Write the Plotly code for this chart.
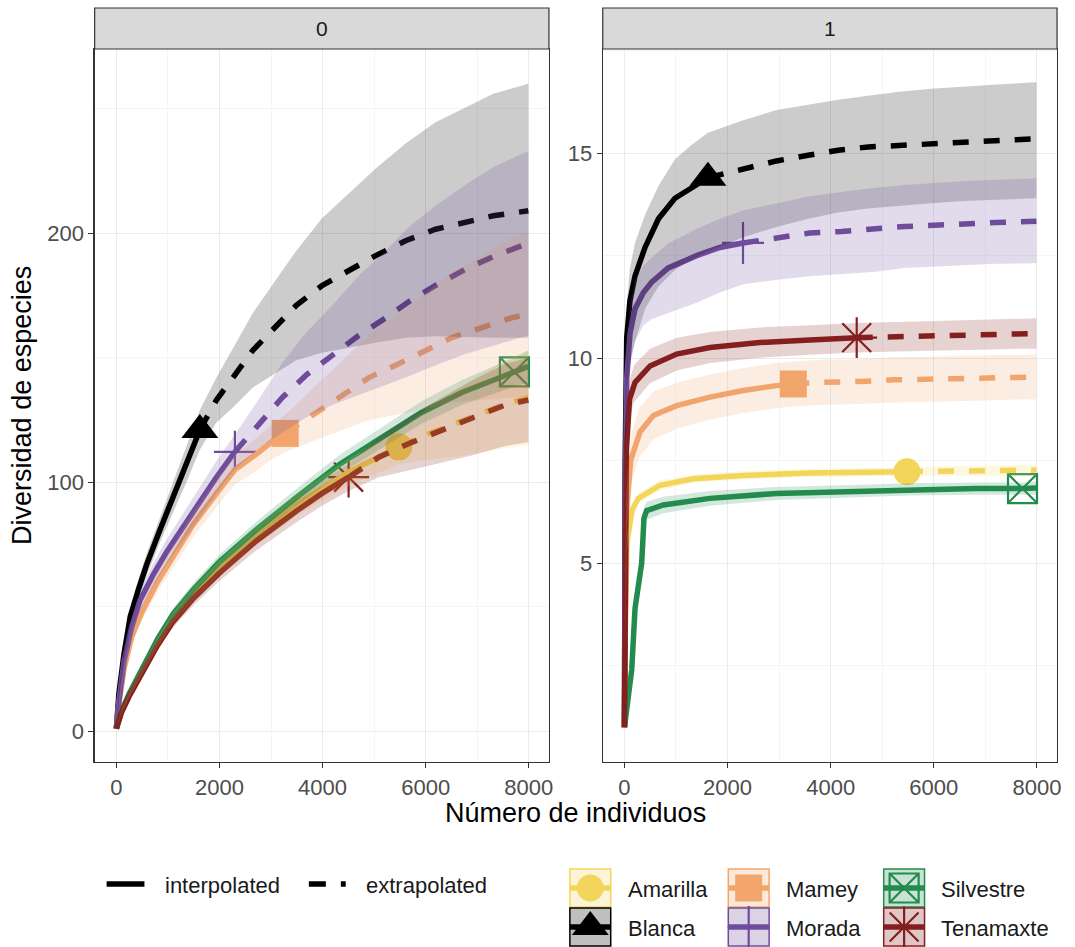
import plotly.graph_objects as go

W, H = 1075, 947
FONT = "Liberation Sans, Arial, sans-serif"

# ---------------- categories / styles ----------------
assemblages = ["Amarilla", "Blanca", "Mamey", "Morada", "Silvestre", "Tenamaxte"]
colors = ["#F3D55B", "#000000", "#F2A66C", "#704C9C", "#238B4E", "#851F1F"]
symbols = ["circle", "triangle-up", "square", "cross-thin-open", "square-x-open", "asterisk-open"]
marker_sizes = [27, 32, 27, 30, 29, 34]
sample_size = [5480, 1620, 3275, 2300, 7720, 4505]   # reference sample size (observed point)
facets = ["0", "1"]
x_ticks = [0, 2000, 4000, 6000, 8000]
y_ticks_q0 = [0, 100, 200]
y_ticks_q1 = [5, 10, 15]

# ---------------- panel q = 0 ----------------
q0_amarilla_x = [1, 100, 250, 520, 800, 1100, 1500, 2000, 2720, 3500, 4500, 5480, 6000, 6500, 7000, 7500, 7990]
q0_amarilla_y = [1, 7.8, 14.5, 25, 35.5, 45.5, 55, 65.5, 78.5, 91, 104, 114.2, 119, 123, 127, 131, 134]
q0_amarilla_hw = [0, 0.8, 1.2, 1.6, 2, 2.4, 2.8, 3.2, 3.8, 4.5, 5.5, 7, 10, 13, 15.5, 17.5, 19]

q0_blanca_x = [1, 50, 150, 270, 430, 590, 850, 1100, 1360, 1620, 1942, 2262, 2648, 3490, 3990, 5030, 5610, 6190, 6770, 7310, 7990]
q0_blanca_y = [1, 15, 31, 46, 57, 67, 81, 94, 107, 121, 133, 142, 153, 171, 179, 191, 197, 201.6, 204.4, 207, 209]
q0_blanca_hw = [0, 2, 3, 3.5, 4, 4.5, 5, 6, 7, 8, 9, 12, 15, 22, 27, 35, 39, 43, 46, 49, 51]

q0_mamey_x = [1, 50, 150, 300, 500, 800, 1100, 1490, 2000, 2300, 2700, 3005, 3275, 3875, 4380, 4900, 5420, 5920, 6500, 7080, 7660, 7990]
q0_mamey_y = [1, 11, 25, 38, 48, 60, 70, 83, 97, 105, 111, 116, 119.6, 128, 135, 142, 147, 152, 158, 162, 166, 167.5]
q0_mamey_hw = [0, 1.5, 2.5, 3, 3.5, 4, 4.5, 5, 5.5, 6, 6.5, 7, 7.5, 11, 14, 17, 20, 23, 26, 29, 32, 33]

q0_morada_x = [1, 50, 150, 300, 460, 720, 977, 1298, 1620, 1942, 2300, 2777, 3220, 3680, 4185, 4705, 5225, 5670, 6190, 6770, 7350, 7990]
q0_morada_y = [1, 12, 28, 42, 52.6, 63, 72, 82, 92, 102, 112.2, 123.7, 134, 143, 151, 159, 166, 172.5, 179, 185.5, 191, 196]
q0_morada_hw = [0, 2, 3, 3.5, 4, 4.5, 5, 5.5, 6, 6.5, 7, 10, 14, 17, 20, 24, 27, 30, 32, 34, 36, 37]

q0_silvestre_x = [1, 100, 250, 520, 800, 1100, 1500, 2000, 2720, 3500, 4320, 5000, 5920, 6700, 7720, 7990]
q0_silvestre_y = [1, 8, 15, 26, 37, 47, 57, 68, 81, 94, 107, 116, 128, 136, 144.3, 146.5]
q0_silvestre_hw = [0, 0.8, 1.2, 1.6, 2, 2.3, 2.6, 2.9, 3.2, 3.5, 3.8, 4.1, 4.5, 5, 5.8, 6.5]

q0_tenamaxte_x = [1, 100, 250, 520, 800, 1100, 1500, 2000, 2720, 3500, 3990, 4505, 5090, 5730, 6310, 6890, 7540, 7990]
q0_tenamaxte_y = [1, 7.5, 14, 24.5, 34.5, 44, 53.5, 63.5, 76.5, 88.5, 95.5, 102, 110, 116, 121, 125.7, 131, 133]
q0_tenamaxte_hw = [0, 0.8, 1.2, 1.6, 2, 2.4, 2.8, 3.2, 3.8, 4.5, 5, 5.5, 8, 11, 13, 15, 16.5, 17]

# ---------------- panel q = 1 ----------------
q1_amarilla_x = [1, 5, 15, 50, 150, 270, 368, 690, 1336, 2304, 3594, 5480, 6500, 7990]
q1_amarilla_y = [1, 2.2, 3.5, 5.5, 6.3, 6.58, 6.66, 6.9, 7.06, 7.14, 7.2, 7.23, 7.25, 7.27]
q1_amarilla_hw = [0, 0.1, 0.15, 0.2, 0.15, 0.12, 0.12, 0.12, 0.1, 0.1, 0.1, 0.1, 0.12, 0.13]

q1_blanca_x = [1, 5, 15, 45, 108, 205, 400, 660, 980, 1300, 1620, 2304, 2949, 3562, 4143, 4724, 5336, 5950, 6563, 7145, 7725, 7990]
q1_blanca_y = [1, 4, 7.5, 10.5, 11.4, 12.0, 12.7, 13.4, 13.9, 14.15, 14.4, 14.61, 14.81, 14.95, 15.07, 15.15, 15.19, 15.24, 15.28, 15.32, 15.33, 15.35]
q1_blanca_lo = [1, 3.5, 6.5, 9.3, 9.9, 10.4, 11.2, 11.75, 12.15, 12.4, 12.6, 12.95, 13.2, 13.4, 13.55, 13.65, 13.72, 13.78, 13.83, 13.86, 13.89, 13.9]
q1_blanca_hi = [1, 4.5, 8.5, 11.3, 12.2, 12.8, 13.5, 14.2, 14.85, 15.2, 15.5, 15.8, 16.05, 16.18, 16.3, 16.4, 16.5, 16.57, 16.63, 16.67, 16.71, 16.73]

q1_mamey_x = [1, 5, 15, 40, 120, 238, 302, 561, 1013, 1658, 2304, 2949, 3275, 3800, 4562, 5207, 6433, 7659, 7990]
q1_mamey_y = [1, 2.5, 4.5, 6.2, 7.5, 8.0, 8.2, 8.6, 8.84, 9.05, 9.21, 9.33, 9.37, 9.41, 9.43, 9.47, 9.5, 9.54, 9.54]
q1_mamey_hw = [0, 0.3, 0.45, 0.55, 0.6, 0.6, 0.6, 0.58, 0.56, 0.55, 0.55, 0.55, 0.55, 0.55, 0.55, 0.55, 0.55, 0.55, 0.55]

q1_morada_x = [1, 5, 15, 45, 108, 205, 368, 529, 850, 1400, 1850, 2300, 3013, 3594, 4207, 4821, 5433, 6014, 6595, 7208, 7822, 7990]
q1_morada_y = [1, 3.5, 6.5, 9.5, 10.6, 11.2, 11.6, 11.85, 12.2, 12.5, 12.7, 12.81, 12.93, 13.05, 13.09, 13.16, 13.21, 13.24, 13.29, 13.31, 13.33, 13.34]
q1_morada_lo = [1, 3, 5.5, 8.7, 9.8, 10.4, 10.8, 10.95, 11.1, 11.35, 11.6, 11.8, 11.92, 12.0, 12.05, 12.1, 12.2, 12.24, 12.27, 12.3, 12.31, 12.32]
q1_morada_hi = [1, 4, 7.5, 10.3, 11.3, 11.9, 12.25, 12.45, 12.8, 13.15, 13.4, 13.6, 13.8, 13.95, 14.05, 14.15, 14.22, 14.27, 14.32, 14.35, 14.38, 14.39]

q1_silvestre_x = [1, 60, 142, 206, 260, 335, 380, 430, 755, 1658, 2949, 4240, 5530, 6820, 7720, 7990]
q1_silvestre_y = [1, 1.5, 2.4, 3.9, 4.3, 5.0, 6.1, 6.28, 6.42, 6.58, 6.7, 6.75, 6.8, 6.82, 6.82, 6.83]
q1_silvestre_hw = [0, 0.1, 0.15, 0.2, 0.22, 0.25, 0.25, 0.22, 0.2, 0.18, 0.16, 0.15, 0.15, 0.15, 0.15, 0.16]

q1_tenamaxte_x = [1, 5, 15, 40, 100, 174, 206, 497, 1013, 1658, 2626, 3594, 4505, 5272, 5918, 6498, 7112, 7693, 7990]
q1_tenamaxte_y = [1, 3, 5.5, 7.8, 9.0, 9.33, 9.41, 9.81, 10.1, 10.26, 10.38, 10.44, 10.5, 10.52, 10.54, 10.56, 10.58, 10.6, 10.6]
q1_tenamaxte_hw = [0, 0.3, 0.4, 0.45, 0.45, 0.45, 0.45, 0.42, 0.4, 0.38, 0.37, 0.36, 0.36, 0.36, 0.36, 0.36, 0.37, 0.37, 0.37]


def band(y, hw=None, lo=None, hi=None):
    if lo is None:
        lo = [a - b for a, b in zip(y, hw)]
        hi = [a + b for a, b in zip(y, hw)]
    return lo, hi


panel0 = {
    "Amarilla": (q0_amarilla_x, q0_amarilla_y, *band(q0_amarilla_y, q0_amarilla_hw)),
    "Blanca": (q0_blanca_x, q0_blanca_y, *band(q0_blanca_y, q0_blanca_hw)),
    "Mamey": (q0_mamey_x, q0_mamey_y, *band(q0_mamey_y, q0_mamey_hw)),
    "Morada": (q0_morada_x, q0_morada_y, *band(q0_morada_y, q0_morada_hw)),
    "Silvestre": (q0_silvestre_x, q0_silvestre_y, *band(q0_silvestre_y, q0_silvestre_hw)),
    "Tenamaxte": (q0_tenamaxte_x, q0_tenamaxte_y, *band(q0_tenamaxte_y, q0_tenamaxte_hw)),
}
panel1 = {
    "Amarilla": (q1_amarilla_x, q1_amarilla_y, *band(q1_amarilla_y, q1_amarilla_hw)),
    "Blanca": (q1_blanca_x, q1_blanca_y, *band(q1_blanca_y, lo=q1_blanca_lo, hi=q1_blanca_hi)),
    "Mamey": (q1_mamey_x, q1_mamey_y, *band(q1_mamey_y, q1_mamey_hw)),
    "Morada": (q1_morada_x, q1_morada_y, *band(q1_morada_y, lo=q1_morada_lo, hi=q1_morada_hi)),
    "Silvestre": (q1_silvestre_x, q1_silvestre_y, *band(q1_silvestre_y, q1_silvestre_hw)),
    "Tenamaxte": (q1_tenamaxte_x, q1_tenamaxte_y, *band(q1_tenamaxte_y, q1_tenamaxte_hw)),
}


def rgba(hexc, a):
    hexc = hexc.lstrip("#")
    r, g, b = int(hexc[0:2], 16), int(hexc[2:4], 16), int(hexc[4:6], 16)
    return f"rgba({r},{g},{b},{a})"


LINE_W = 5.5
DASH = "16px,15px"
RIB_A = 0.2


def marker_style(i):
    is_open = symbols[i].endswith("-open")
    return dict(symbol=symbols[i], size=marker_sizes[i], color=colors[i],
                line=dict(color=colors[i], width=2.2 if is_open else 0))


fig = go.Figure()

for panel, xa, ya in [(panel0, "x", "y"), (panel1, "x2", "y2")]:
    # points first (ggplot layer order), then lines, then ribbons on top
    for i, name in enumerate(assemblages):
        xs, ys, lo, hi = panel[name]
        k = xs.index(sample_size[i])
        fig.add_trace(go.Scatter(x=[xs[k]], y=[ys[k]], mode="markers", marker=marker_style(i),
                                 xaxis=xa, yaxis=ya, showlegend=False, hoverinfo="skip"))
    for i, name in enumerate(assemblages):
        xs, ys, lo, hi = panel[name]
        k = xs.index(sample_size[i])
        fig.add_trace(go.Scatter(x=xs[:k + 1], y=ys[:k + 1], mode="lines",
                                 line=dict(color=colors[i], width=LINE_W),
                                 xaxis=xa, yaxis=ya, showlegend=False, hoverinfo="skip"))
        fig.add_trace(go.Scatter(x=xs[k:], y=ys[k:], mode="lines",
                                 line=dict(color=colors[i], width=LINE_W, dash=DASH),
                                 xaxis=xa, yaxis=ya, showlegend=False, hoverinfo="skip"))
    for i, name in enumerate(assemblages):
        xs, ys, lo, hi = panel[name]
        fig.add_trace(go.Scatter(x=xs + xs[::-1], y=hi + lo[::-1], mode="lines", fill="toself",
                                 fillcolor=rgba(colors[i], RIB_A), line=dict(width=0),
                                 xaxis=xa, yaxis=ya, showlegend=False, hoverinfo="skip"))

# ---------------- layout geometry (pixels) ----------------
PX0 = (95, 551)
PX1 = (605, 1061)
PY_TOP, PY_BOT = 49, 762
STRIP_TOP = 8
X_RANGE = [-420, 8390]


def fx(px):
    return px / W


def fy(py):
    return 1 - py / H


axis_common = dict(
    showline=True, mirror=True, linecolor="#333333", linewidth=1.2,
    ticks="outside", ticklen=5, tickwidth=1.1, tickcolor="#333333",
    showgrid=True, gridcolor="#EBEBEB", gridwidth=1.1, zeroline=False,
    tickfont=dict(family=FONT, size=22, color="#4D4D4D"),
)

fig.update_layout(
    width=W, height=H, autosize=False,
    margin=dict(l=0, r=0, t=0, b=0),
    paper_bgcolor="white", plot_bgcolor="rgba(0,0,0,0)",
    showlegend=False,
    xaxis=dict(domain=[fx(PX0[0]), fx(PX0[1])], range=X_RANGE, tickvals=x_ticks, anchor="y",
               minor=dict(tickvals=[1000, 3000, 5000, 7000], showgrid=True, gridcolor="#F2F2F2", gridwidth=0.8, ticks=""),
               **axis_common),
    yaxis=dict(domain=[fy(PY_BOT), fy(PY_TOP)], range=[-12.4, 274], tickvals=y_ticks_q0, anchor="x",
               minor=dict(tickvals=[50, 150, 250], showgrid=True, gridcolor="#F2F2F2", gridwidth=0.8, ticks=""),
               **axis_common),
    xaxis2=dict(domain=[fx(PX1[0]), fx(PX1[1])], range=X_RANGE, tickvals=x_ticks, anchor="y2",
                minor=dict(tickvals=[1000, 3000, 5000, 7000], showgrid=True, gridcolor="#F2F2F2", gridwidth=0.8, ticks=""),
                **axis_common),
    yaxis2=dict(domain=[fy(PY_BOT), fy(PY_TOP)], range=[0.15, 17.54], tickvals=y_ticks_q1, anchor="x2",
                minor=dict(tickvals=[2.5, 7.5, 12.5, 17.5], showgrid=True, gridcolor="#F2F2F2", gridwidth=0.8, ticks=""),
                **axis_common),
    # overlay pixel axis used only for the legend keys
    xaxis3=dict(domain=[0, 1], range=[0, W], visible=False, anchor="y3", fixedrange=True),
    yaxis3=dict(domain=[0, 1], range=[H, 0], visible=False, anchor="x3", fixedrange=True),
)

shapes = []
annotations = []

# facet strips
for (a, b), lab in zip([PX0, PX1], facets):
    shapes.append(dict(type="rect", xref="paper", yref="paper", x0=fx(a), x1=fx(b),
                       y0=fy(PY_TOP), y1=fy(STRIP_TOP), fillcolor="#D9D9D9",
                       line=dict(color="#333333", width=1.2), layer="above"))
    annotations.append(dict(xref="paper", yref="paper", x=fx((a + b) / 2), y=fy((PY_TOP + STRIP_TOP) / 2),
                            text=lab, showarrow=False, xanchor="center", yanchor="middle",
                            font=dict(family=FONT, size=21, color="#1A1A1A")))

# axis titles
annotations.append(dict(xref="paper", yref="paper", x=fx(578), y=fy(813), text="Número de individuos",
                        showarrow=False, xanchor="center", yanchor="middle",
                        font=dict(family=FONT, size=27, color="#000000")))
annotations.append(dict(xref="paper", yref="paper", x=fx(22), y=fy(405), text="Diversidad de especies",
                        showarrow=False, xanchor="center", yanchor="middle", textangle=-90,
                        font=dict(family=FONT, size=27, color="#000000")))

# ---------------- legends (drawn in pixel overlay axis) ----------------
LEG_FONT = dict(family=FONT, size=22, color="#1A1A1A")
# line-type legend
ly = 884
shapes.append(dict(type="line", xref="x3", yref="y3", x0=107, x1=145, y0=ly, y1=ly,
                   line=dict(color="black", width=LINE_W), layer="below"))
annotations.append(dict(xref="x3", yref="y3", x=164, y=ly + 1, text="interpolated", showarrow=False,
                        xanchor="left", yanchor="middle", font=LEG_FONT))
shapes.append(dict(type="line", xref="x3", yref="y3", x0=310, x1=347, y0=ly, y1=ly,
                   line=dict(color="black", width=LINE_W, dash="17px,15px"), layer="below"))
annotations.append(dict(xref="x3", yref="y3", x=365, y=ly + 1, text="extrapolated", showarrow=False,
                        xanchor="left", yanchor="middle", font=LEG_FONT))

# assemblage legend: 3 columns x 2 rows (column-major like ggplot)
col_x = [572, 731, 887]
row_y = [869, 908]
KW, KH = 41, 38
for i, name in enumerate(assemblages):
    c, r = i // 2, i % 2
    x0, y0 = col_x[c], row_y[r]
    cx, cy = x0 + KW / 2, y0 + KH / 2
    shapes.append(dict(type="rect", xref="x3", yref="y3", x0=x0, x1=x0 + KW, y0=y0, y1=y0 + KH,
                       fillcolor=rgba(colors[i], 0.25), line=dict(color=colors[i], width=1.5), layer="below"))
    shapes.append(dict(type="line", xref="x3", yref="y3", x0=x0, x1=x0 + KW, y0=cy, y1=cy,
                       line=dict(color=colors[i], width=LINE_W), layer="below"))
    fig.add_trace(go.Scatter(x=[cx], y=[cy], mode="markers", marker=marker_style(i),
                             xaxis="x3", yaxis="y3", showlegend=False, hoverinfo="skip"))
    annotations.append(dict(xref="x3", yref="y3", x=x0 + KW + 15, y=cy + 1, text=name, showarrow=False,
                            xanchor="left", yanchor="middle", font=LEG_FONT))

fig.update_layout(shapes=shapes, annotations=annotations)
fig.write_html("out.html", config={"staticPlot": True},
               post_script="document.body.style.margin='0px';document.body.style.overflow='hidden';")
